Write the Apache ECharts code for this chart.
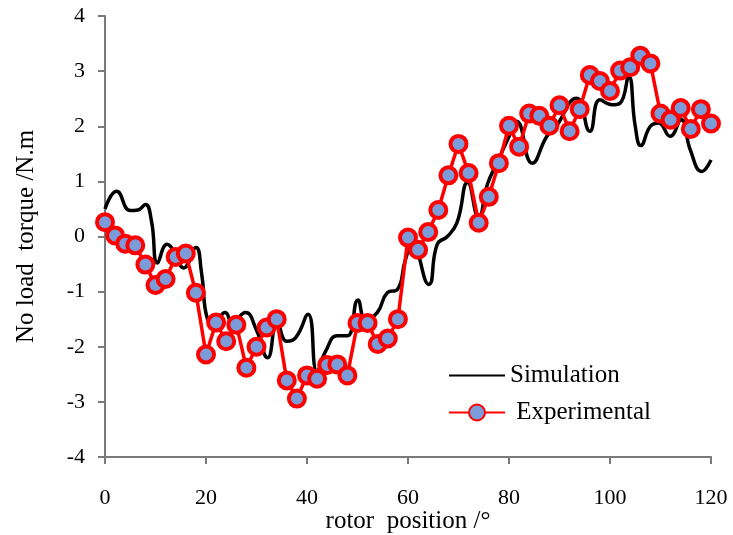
<!DOCTYPE html>
<html>
<head>
<meta charset="utf-8">
<script src="https://cdn.jsdelivr.net/npm/echarts@6/dist/echarts.min.js"></script>
<style>
  html, body { margin: 0; padding: 0; background: #fff; }
  #chart { width: 733px; height: 535px; }
</style>
</head>
<body>
<div id="chart"></div>
<script>
  // simulation curve (rotor position, torque)
  var simX = [0, 2.3, 5, 6.5, 8, 9.2, 10.4, 12.3, 13.5, 15.6, 18, 19.1, 20.3, 21.6, 23.8, 25.2, 27.8,
    30, 32.2, 34.1, 36, 37.8, 40.2, 42, 43.7, 46, 48, 50.1, 51.6, 53.9, 55.9, 57.9, 59.5, 60.8,
    64.1, 65.8, 67.8, 69.7, 71.8, 74, 75.7, 77.6, 79.9, 81.5, 84.6, 87.5, 89, 93.4, 96, 98,
    100.4, 102, 103.7, 105, 106.1, 108, 109.6, 111.9, 114.1, 115.9, 118.2, 120]
  var simY = [0.50, 0.82, 0.47, 0.48, 0.58, 0.28, -0.48, -0.14, -0.24, -0.57, -0.20, -0.65, -1.50, -1.55, -1.38, -1.56, -1.38,
    -1.70, -2.20, -1.56, -1.90, -1.83, -1.41, -2.45, -2.08, -1.80, -1.80, -1.15, -1.50, -1.38, -1.02, -0.96, -0.42, -0.15,
    -0.87, -0.14, 0.0, 0.25, 0.98, 0.34, 0.94, 1.33, 1.79, 2.09, 1.33, 1.82, 1.95, 2.51, 1.91, 2.48,
    2.39, 2.42, 2.90, 2.0, 1.65, 2.0, 2.06, 1.82, 2.12, 1.57, 1.18, 1.39]

  // experimental points every 2 degrees
  var expX = []
  for (var i = 0; i <= 120; i += 2) expX.push(i)
  var expY = [0.26, 0.02, -0.13, -0.16, -0.51, -0.88, -0.77, -0.37, -0.31, -1.02,
    -2.14, -1.56, -1.90, -1.60, -2.38, -2.00, -1.65, -1.50, -2.61, -2.94,
    -2.52, -2.58, -2.33, -2.32, -2.52, -1.57, -1.57, -1.95, -1.85, -1.50,
    -0.02, -0.24, 0.08, 0.48, 1.11, 1.68, 1.15, 0.25, 0.72, 1.33,
    2.01, 1.63, 2.23, 2.19, 2.01, 2.38, 1.91, 2.31, 2.93, 2.82,
    2.64, 3.01, 3.07, 3.28, 3.14, 2.23, 2.12, 2.33, 1.95, 2.31, 2.05]

  var simData = simX.map(function (x, k) { return [x, simY[k]] })
  var expData = expX.map(function (x, k) { return [x, expY[k]] })

  var font = 'Liberation Serif'
  var axisGray = '#7a7a7a'

  var chart = echarts.init(document.getElementById('chart'))
  chart.setOption({
    animation: false,
    backgroundColor: '#fff',
    grid: { left: 105, right: 22, top: 16, bottom: 78, outerBoundsMode: 'none' },
    legend: {
      orient: 'vertical',
      left: 443, top: 358,
      itemWidth: 56, itemHeight: 20, itemGap: 12,
      textStyle: { fontFamily: font, fontSize: 25, color: '#000' },
      formatter: function (name) { return name === 'Experimental' ? ' ' + name : name },
      data: [
        { name: 'Simulation', itemStyle: { opacity: 0 } },
        { name: 'Experimental' }
      ]
    },
    xAxis: {
      type: 'value', min: 0, max: 120, interval: 20,
      name: 'rotor  position /°', nameLocation: 'middle', nameGap: 52, nameMoveOverlap: false,
      nameTextStyle: { fontFamily: font, fontSize: 25, color: '#000' },
      axisLine: { show: true, onZero: false, lineStyle: { color: axisGray, width: 2 } },
      axisTick: { show: true, length: 7, lineStyle: { color: axisGray, width: 2 } },
      axisLabel: { fontFamily: font, fontSize: 22, color: '#000', margin: 30 },
      splitLine: { show: false }
    },
    yAxis: {
      type: 'value', min: -4, max: 4, interval: 1,
      name: 'No load  torque /N.m', nameLocation: 'middle', nameGap: 66, nameMoveOverlap: false,
      nameTextStyle: { fontFamily: font, fontSize: 25, color: '#000' },
      axisLine: { show: true, lineStyle: { color: axisGray, width: 2 } },
      axisTick: { show: true, length: 7, lineStyle: { color: axisGray, width: 2 } },
      axisLabel: { fontFamily: font, fontSize: 22, color: '#000', margin: 20 },
      splitLine: { show: false }
    },
    series: [
      {
        name: 'Simulation',
        type: 'line',
        data: simData,
        smooth: 0.5,
        showSymbol: false,
        symbol: 'none',
        lineStyle: { color: '#000', width: 3.5 },
        itemStyle: { color: '#000' },
        z: 2
      },
      {
        name: 'Experimental',
        type: 'line',
        data: expData,
        symbol: 'circle',
        symbolSize: 16,
        lineStyle: { color: '#ff0000', width: 3.5 },
        itemStyle: { color: '#7b9bd9', borderColor: '#ff0000', borderWidth: 4 },
        z: 3
      }
    ]
  })
</script>
</body>
</html>
